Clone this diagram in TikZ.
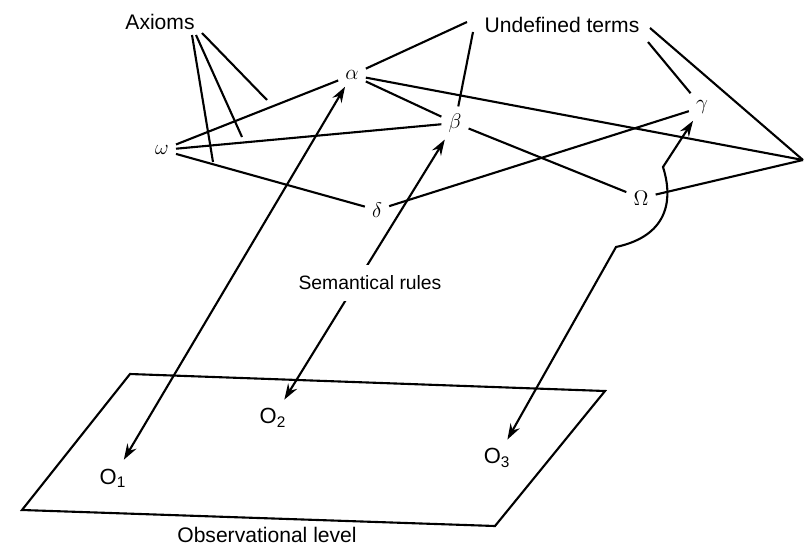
\documentclass[tikz,border=0pt]{standalone}
\usepackage{fontspec}
\setmainfont{Liberation Sans}
\usetikzlibrary{arrows.meta}
\begin{document}
\begin{tikzpicture}[x=0.02cm, y=-0.02cm, line width=1.2pt,
    term/.style={font=\fontsize{13}{15}\selectfont, inner sep=3.5pt},
    caption/.style={font=\fontsize{12}{14}\selectfont},
    obsterm/.style={font=\fontsize{12.5}{14}\selectfont, inner sep=4.5pt},
    semarrow/.style={{Stealth[length=9pt,width=6pt,inset=3pt]}-{Stealth[length=9pt,width=6pt,inset=3pt]}}]
  \useasboundingbox (0,0) rectangle (804,551);

  % Observational plane
  \draw (130,374) -- (605,391) -- (495,526) -- (22,510) -- cycle;
  \node[caption] (obs) at (267,535) {Observational level};

  % Theoretical terms
  \node[term] (alpha) at (352,75) {$\alpha$};
  \node[term] (beta) at (455,123) {$\beta$};
  \node[term] (gamma) at (702,107) {$\gamma$};
  \node[term] (delta) at (377,210) {$\delta$};
  \node[term] (omega) at (162,150) {$\omega$};
  \node[term] (Omega) at (641,198) {$\Omega$};
  \coordinate (apex) at (803,160);

  \draw (omega) -- (alpha);
  \draw (omega) -- (beta);
  \draw (omega) -- (delta);
  \draw (alpha) -- (beta);
  \draw (alpha) -- (apex);
  \draw (beta) -- (Omega);
  \draw (delta) -- (gamma);
  \draw (Omega) -- (apex);

  % Axioms point at the links
  \node[caption] (axioms) at (160,22) {Axioms};
  \coordinate (ax1) at (192,35);
  \coordinate (ax2) at (196,35);
  \coordinate (ax3) at (202,33);
  \coordinate (link1) at (213,162);
  \coordinate (link2) at (242,137);
  \coordinate (link3) at (267,100);
  \draw (ax1) -- (link1);
  \draw (ax2) -- (link2);
  \draw (ax3) -- (link3);

  % Undefined terms
  \node[caption] (undef) at (562,25) {Undefined terms};
  \coordinate (un1) at (467,22);
  \coordinate (un2) at (473,32);
  \coordinate (un3) at (648,42);
  \coordinate (un4) at (650,28);
  \draw (un1) -- (alpha);
  \draw (un2) -- (beta);
  \draw (un3) -- (gamma);
  \draw (un4) -- (apex);

  % Observables and semantical rules
  \node[obsterm] (o1) at (113,478) {O\textsubscript{1}};
  \node[obsterm] (o2) at (273,418) {O\textsubscript{2}};
  \node[obsterm] (o3) at (497,458) {O\textsubscript{3}};

  \draw[semarrow] (o1) -- (alpha);
  \draw[semarrow] (o2) -- (beta);
  \draw[semarrow] (o3) -- (616,247) .. controls (672,235) and (672,195) .. (663,167) -- (gamma);

  \node[font=\fontsize{11}{13}\selectfont, fill=white, inner sep=6pt] (rules) at (370,283) {Semantical rules};
\end{tikzpicture}
\end{document}
